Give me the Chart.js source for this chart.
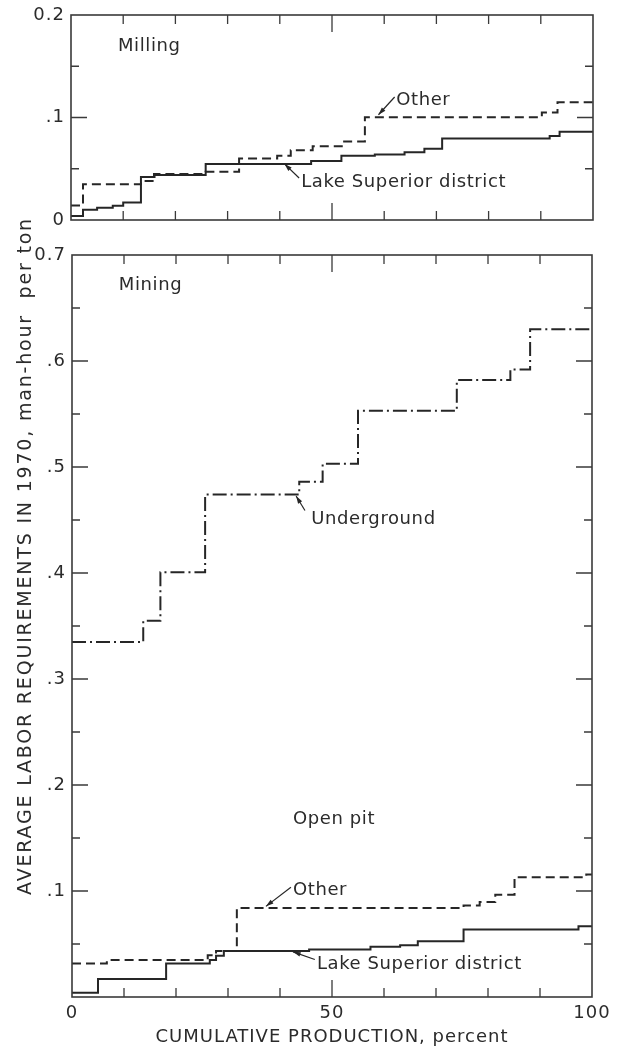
<!DOCTYPE html>
<html>
<head>
<meta charset="utf-8">
<title>Labor requirements</title>
<script src="https://cdn.jsdelivr.net/npm/chart.js@4.4.0/dist/chart.umd.min.js"></script>
<style>
  html, body { margin: 0; padding: 0; background: #fff; }
  #wrap { position: relative; width: 622px; height: 1051px; overflow: hidden; background: #fff; }
  #millingChart { position: absolute; left: 0; top: 0; }
  #miningChart { position: absolute; left: 0; top: 240px; }
  #yTitle {
    position: absolute; left: -335px; top: 544px; width: 720px; height: 24px;
    line-height: 24px; text-align: center; white-space: pre;
    transform: rotate(-90deg);
    font: 19px "DejaVu Sans", sans-serif; letter-spacing: 1.8px; color: #2b2b2b;
  }
</style>
</head>
<body>
<div id="wrap">
  <canvas id="millingChart" width="622" height="240"></canvas>
  <canvas id="miningChart" width="622" height="811"></canvas>
  <div id="yTitle">AVERAGE LABOR REQUIREMENTS IN 1970, man-hour  per ton</div>
</div>
<script>
// Step curves: each level starts at the given cumulative-production percent
// Milling
const millLakeX = [0, 2.3, 5, 8, 10, 13.4, 16, 25.8, 46, 51.8, 58.2, 63.9, 67.7, 71.1, 91.7, 93.6];
const millLakeY = [0.004, 0.010, 0.012, 0.014, 0.017, 0.042, 0.044, 0.0547, 0.0575, 0.0626, 0.064, 0.066, 0.0695, 0.0796, 0.082, 0.086];
const millOtherX = [0, 2.3, 13.4, 15.9, 25.8, 32.2, 39.5, 42.1, 46.3, 52.1, 56.3, 90.2, 93.2];
const millOtherY = [0.0142, 0.0348, 0.038, 0.045, 0.047, 0.060, 0.0626, 0.068, 0.072, 0.0765, 0.1002, 0.105, 0.115];

// Mining - underground
const ugX = [0, 13.7, 17.0, 25.6, 43.7, 48.2, 55.0, 74.0, 84.3, 88.1];
const ugY = [0.335, 0.355, 0.4006, 0.474, 0.486, 0.503, 0.553, 0.582, 0.592, 0.630];

// Mining - open pit
const pitOtherX = [0, 6.7, 26.1, 27.7, 31.7, 75.3, 78.4, 81.4, 85.1, 98.9];
const pitOtherY = [0.0316, 0.0348, 0.0395, 0.0435, 0.0839, 0.0864, 0.0896, 0.0965, 0.113, 0.1155];
const pitLakeX = [0, 5, 18.1, 26.5, 27.7, 29.2, 45.6, 57.4, 63.1, 66.5, 75.3, 97.4];
const pitLakeY = [0.004, 0.0169, 0.0316, 0.0348, 0.0388, 0.0435, 0.0448, 0.0473, 0.0489, 0.0526, 0.0636, 0.0667];

// Tick labels
const xTickVals = [0, 50, 100];
const xTickText = ['0', '50', '100'];
const millTickVals = [0, 0.1, 0.2];
const millTickText = ['0', '.1', '0.2'];
const mineTickVals = [0.1, 0.2, 0.3, 0.4, 0.5, 0.6, 0.7];
const mineTickText = ['.1', '.2', '.3', '.4', '.5', '.6', '0.7'];

// Text notes inside the panels (x in percent, y in man-hours per ton)
const millNotes = [
  { text: 'Milling', x: 9, y: 0.169 },
  { text: 'Other', x: 62.3, y: 0.1166, from: [62.0, 0.120], to: [58.9, 0.1027] },
  { text: 'Lake Superior district', x: 44.1, y: 0.0363, from: [43.7, 0.041], to: [40.9, 0.0547] }
];
const mineNotes = [
  { text: 'Mining', x: 9, y: 0.671 },
  { text: 'Underground', x: 46.0, y: 0.451, from: [44.8, 0.459], to: [43.1, 0.4726] },
  { text: 'Open pit', x: 42.5, y: 0.168 },
  { text: 'Other', x: 42.5, y: 0.1005, from: [42.1, 0.1036], to: [37.3, 0.0855] },
  { text: 'Lake Superior district', x: 47.1, y: 0.031, from: [46.7, 0.0354], to: [42.5, 0.0426] }
];

const INK = '#262626';
const TEXT = '#2b2b2b';
const FONT = '"DejaVu Sans", sans-serif';

function stepPoints(xs, ys) {
  const pts = xs.map((x, i) => ({ x: x, y: ys[i] }));
  pts.push({ x: 100, y: ys[ys.length - 1] });
  return pts;
}

function lookupLabel(vals, texts) {
  return function(value) {
    const i = vals.findIndex(v => Math.abs(v - value) < 1e-6);
    return i >= 0 ? texts[i] : '';
  };
}

// frame with inward tick marks on all four sides
const frameTicks = {
  id: 'frameTicks',
  beforeDraw(chart) {
    // wider lettering for axis labels
    chart.ctx.letterSpacing = '1px';
  },
  afterDatasetsDraw(chart) {
    const { ctx, chartArea: a, scales } = chart;
    const xs = scales.x, ys = scales.y;
    ctx.save();
    ctx.strokeStyle = '#3a3a3a';
    ctx.lineWidth = 1.6;
    ctx.strokeRect(a.left, a.top, a.right - a.left, a.bottom - a.top);
    ctx.lineWidth = 1.3;
    ctx.beginPath();
    for (let p = 10; p < 100; p += 10) {
      const px = xs.getPixelForValue(p);
      const len = p === 50 ? 17 : 9;
      ctx.moveTo(px, a.top); ctx.lineTo(px, a.top + len);
      ctx.moveTo(px, a.bottom); ctx.lineTo(px, a.bottom - len);
    }
    const steps = Math.round((ys.max - ys.min) / 0.05);
    for (let k = 1; k < steps; k++) {
      const v = ys.min + k * 0.05;
      const py = ys.getPixelForValue(v);
      const len = k % 2 === 0 ? 16 : 8;
      ctx.moveTo(a.left, py); ctx.lineTo(a.left + len, py);
      ctx.moveTo(a.right, py); ctx.lineTo(a.right - len, py);
    }
    ctx.stroke();
    ctx.restore();
  }
};

// panel captions and pointer arrows
const panelNotes = {
  id: 'panelNotes',
  afterDraw(chart, args, opts) {
    const { ctx, scales } = chart;
    const xs = scales.x, ys = scales.y;
    ctx.save();
    ctx.font = '18px ' + FONT;
    ctx.letterSpacing = '0.6px';
    ctx.fillStyle = TEXT;
    ctx.textAlign = 'left';
    ctx.textBaseline = 'middle';
    (opts.notes || []).forEach(n => {
      ctx.fillText(n.text, xs.getPixelForValue(n.x), ys.getPixelForValue(n.y));
      if (n.from) {
        const x0 = xs.getPixelForValue(n.from[0]), y0 = ys.getPixelForValue(n.from[1]);
        const x1 = xs.getPixelForValue(n.to[0]), y1 = ys.getPixelForValue(n.to[1]);
        const ang = Math.atan2(y1 - y0, x1 - x0);
        ctx.strokeStyle = INK;
        ctx.lineWidth = 1.2;
        ctx.beginPath();
        ctx.moveTo(x0, y0); ctx.lineTo(x1, y1);
        ctx.stroke();
        ctx.beginPath();
        ctx.moveTo(x1, y1);
        ctx.lineTo(x1 - 8 * Math.cos(ang - 0.3), y1 - 8 * Math.sin(ang - 0.3));
        ctx.lineTo(x1 - 8 * Math.cos(ang + 0.3), y1 - 8 * Math.sin(ang + 0.3));
        ctx.closePath();
        ctx.fillStyle = INK;
        ctx.fill();
        ctx.fillStyle = TEXT;
      }
    });
    ctx.restore();
  }
};

function stepSet(points, dash) {
  return {
    data: points,
    stepped: 'before',
    borderColor: INK,
    borderWidth: 2,
    borderDash: dash,
    pointRadius: 0,
    fill: false
  };
}

const baseOptions = {
  responsive: false,
  devicePixelRatio: 1,
  animation: false,
  parsing: false,
  plugins: { legend: { display: false }, tooltip: { enabled: false } }
};

// Milling panel
new Chart(document.getElementById('millingChart'), {
  type: 'line',
  data: {
    datasets: [
      stepSet(stepPoints(millOtherX, millOtherY), [9, 5]),
      stepSet(stepPoints(millLakeX, millLakeY), [])
    ]
  },
  options: Object.assign({}, baseOptions, {
    layout: { padding: { top: 9, right: 29, bottom: 20, left: 0 } },
    plugins: Object.assign({}, baseOptions.plugins, { panelNotes: { notes: millNotes } }),
    scales: {
      x: { type: 'linear', min: 0, max: 100, display: false },
      y: {
        type: 'linear', min: 0, max: 0.2,
        afterFit(scale) { scale.width = 71; },
        grid: { display: false, drawTicks: false },
        border: { display: false },
        ticks: {
          stepSize: 0.05, autoSkip: false, padding: 6, color: TEXT,
          font: { family: FONT, size: 18, lineHeight: 1 },
          callback: lookupLabel(millTickVals, millTickText)
        }
      }
    }
  }),
  plugins: [frameTicks, panelNotes]
});

// Mining panel
new Chart(document.getElementById('miningChart'), {
  type: 'line',
  data: {
    datasets: [
      stepSet(stepPoints(ugX, ugY), [14, 4, 2, 4]),
      stepSet(stepPoints(pitOtherX, pitOtherY), [9, 5]),
      stepSet(stepPoints(pitLakeX, pitLakeY), [])
    ]
  },
  options: Object.assign({}, baseOptions, {
    layout: { padding: { top: 12, right: 30, bottom: 0, left: 0 } },
    plugins: Object.assign({}, baseOptions.plugins, { panelNotes: { notes: mineNotes } }),
    scales: {
      x: {
        type: 'linear', min: 0, max: 100,
        afterFit(scale) { scale.height = 54; },
        grid: { display: false, drawTicks: false },
        border: { display: false },
        ticks: {
          stepSize: 50, autoSkip: false, maxRotation: 0, padding: 6, color: TEXT,
          font: { family: FONT, size: 18 },
          callback: lookupLabel(xTickVals, xTickText)
        },
        title: {
          display: true,
          text: 'CUMULATIVE PRODUCTION, percent',
          color: TEXT,
          font: { family: FONT, size: 18 },
          padding: { top: 0, bottom: 3 }
        }
      },
      y: {
        type: 'linear', min: 0, max: 0.7,
        afterFit(scale) { scale.width = 72; },
        grid: { display: false, drawTicks: false },
        border: { display: false },
        ticks: {
          stepSize: 0.05, autoSkip: false, padding: 6, color: TEXT,
          font: { family: FONT, size: 18, lineHeight: 1 },
          callback: lookupLabel(mineTickVals, mineTickText)
        }
      }
    }
  }),
  plugins: [frameTicks, panelNotes]
});
</script>
</body>
</html>
